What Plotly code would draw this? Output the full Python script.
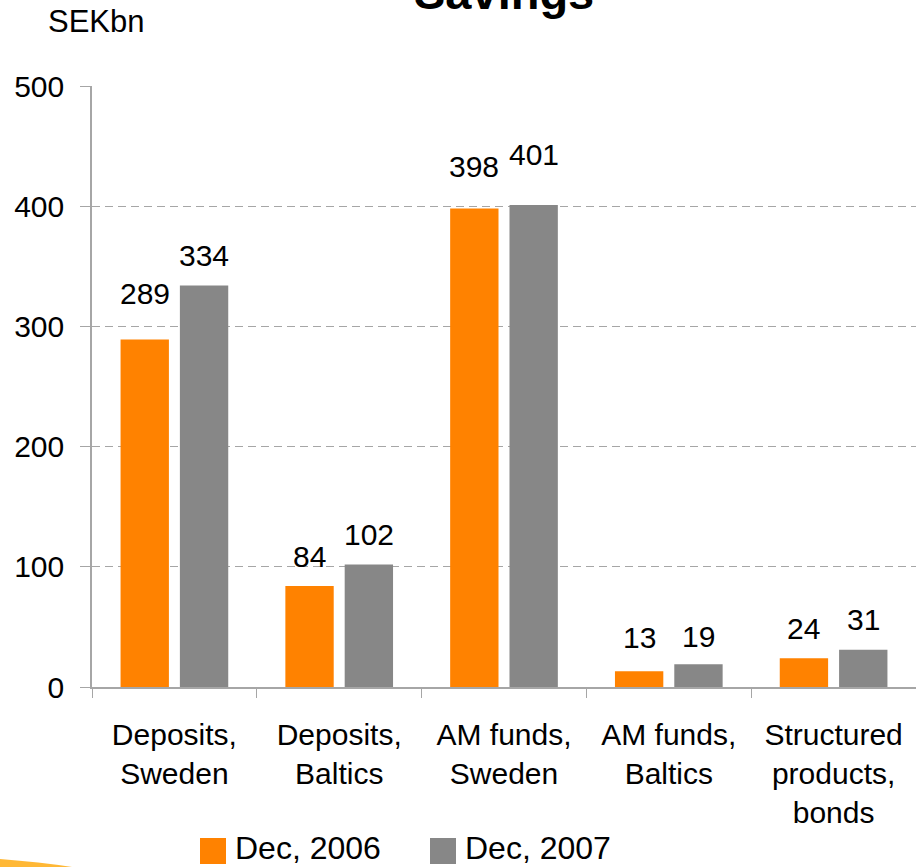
import plotly.graph_objects as go

categories = ["Deposits,<br>Sweden", "Deposits,<br>Baltics", "AM funds,<br>Sweden",
              "AM funds,<br>Baltics", "Structured<br>products,<br>bonds"]
series_names = ["Dec, 2006", "Dec, 2007"]
values_2006 = [289, 84, 398, 13, 24]
values_2007 = [334, 102, 401, 19, 31]
y_ticks = [0, 100, 200, 300, 400, 500]

colors = ["#FF8200", "#878787"]
FONT = "Liberation Sans, Arial, sans-serif"

# label gaps (px between label baseline and bar top), as in the reference
gaps_2006 = [35, 19, 31, 23, 19]
gaps_2007 = [19, 19, 40, 17, 19]

W, H = 916, 867
L, R, T, B = 92, 0, 86, 180
pw, ph = W - L - R, H - T - B

def px_x(x):
    return (x - L) / pw

def px_y(y):
    return (H - B - y) / ph

fig = go.Figure()
for name, vals, col in zip(series_names, [values_2006, values_2007], colors):
    fig.add_trace(go.Bar(x=categories, y=vals, name=name, marker_color=col,
                         marker_line_width=0, showlegend=False))

annotations = []
for off, vals, gaps in [(-0.18, values_2006, gaps_2006), (0.18, values_2007, gaps_2007)]:
    for i, (v, g) in enumerate(zip(vals, gaps)):
        annotations.append(dict(x=i + off, y=v, xref="x", yref="y", text=str(v),
                                showarrow=False, yanchor="bottom", yshift=g - 7.5,
                                font=dict(family=FONT, size=30, color="black")))

# title (cut off at the top in the reference)
annotations.append(dict(x=0.5, y=px_y(21), xref="paper", yref="paper", text="<b>Savings</b>",
                        showarrow=False, yanchor="bottom", xanchor="center",
                        font=dict(family=FONT, size=47, color="black")))
# unit label
annotations.append(dict(x=px_x(46), y=px_y(21), xref="paper", yref="paper", text="SEKbn",
                        showarrow=False, yanchor="middle", xanchor="left",
                        font=dict(family=FONT, size=31, color="black")))

shapes = []
# manual legend
leg_x = [200, 430]
for name, col, lx in zip(series_names, colors, leg_x):
    shapes.append(dict(type="rect", xref="paper", yref="paper",
                       x0=px_x(lx), x1=px_x(lx + 26), y0=px_y(864), y1=px_y(838),
                       fillcolor=col, line_width=0))
    annotations.append(dict(x=px_x(lx + 33), y=px_y(848), xref="paper", yref="paper",
                            text=name, showarrow=False, xanchor="left", yanchor="middle",
                            font=dict(family=FONT, size=32, color="black")))

# decorative swoosh bottom-left
shapes.append(dict(type="path", xref="paper", yref="paper",
                   path=f"M {px_x(0)},{px_y(859)} Q {px_x(40)},{px_y(862)} {px_x(72)},{px_y(867)} "
                        f"L {px_x(0)},{px_y(867)} Z",
                   fillcolor="#FFB020", line_width=0, opacity=0.9))

fig.update_layout(
    width=W, height=H,
    margin=dict(l=L, r=R, t=T, b=B, pad=0),
    paper_bgcolor="white", plot_bgcolor="white",
    barmode="group", bargap=0.28, bargroupgap=0.185,
    font=dict(family=FONT, size=30, color="black"),
    annotations=annotations, shapes=shapes,
    showlegend=False,
)
fig.update_xaxes(
    showline=True, linecolor="#A6A6A6", linewidth=1.5,
    ticks="outside", ticklen=9, tickcolor="#A6A6A6", tickwidth=1,
    tickson="boundaries", ticklabelstandoff=20,
    tickfont=dict(family=FONT, size=30, color="black"),
    showgrid=False,
)
fig.update_yaxes(
    range=[0, 500], tickvals=y_ticks, ticktext=[str(t) for t in y_ticks],
    showline=True, linecolor="#A6A6A6", linewidth=1.5,
    ticks="outside", ticklen=10, tickcolor="#A6A6A6", tickwidth=1,
    ticklabelstandoff=10,
    showgrid=True, gridcolor="#A6A6A6", gridwidth=1, griddash="8px,5px",
    zeroline=False,
    tickfont=dict(family=FONT, size=30, color="black"),
)

fig.write_html("out.html", config={"displayModeBar": False},
               post_script="document.body.style.margin='0';document.body.style.overflow='hidden';")
